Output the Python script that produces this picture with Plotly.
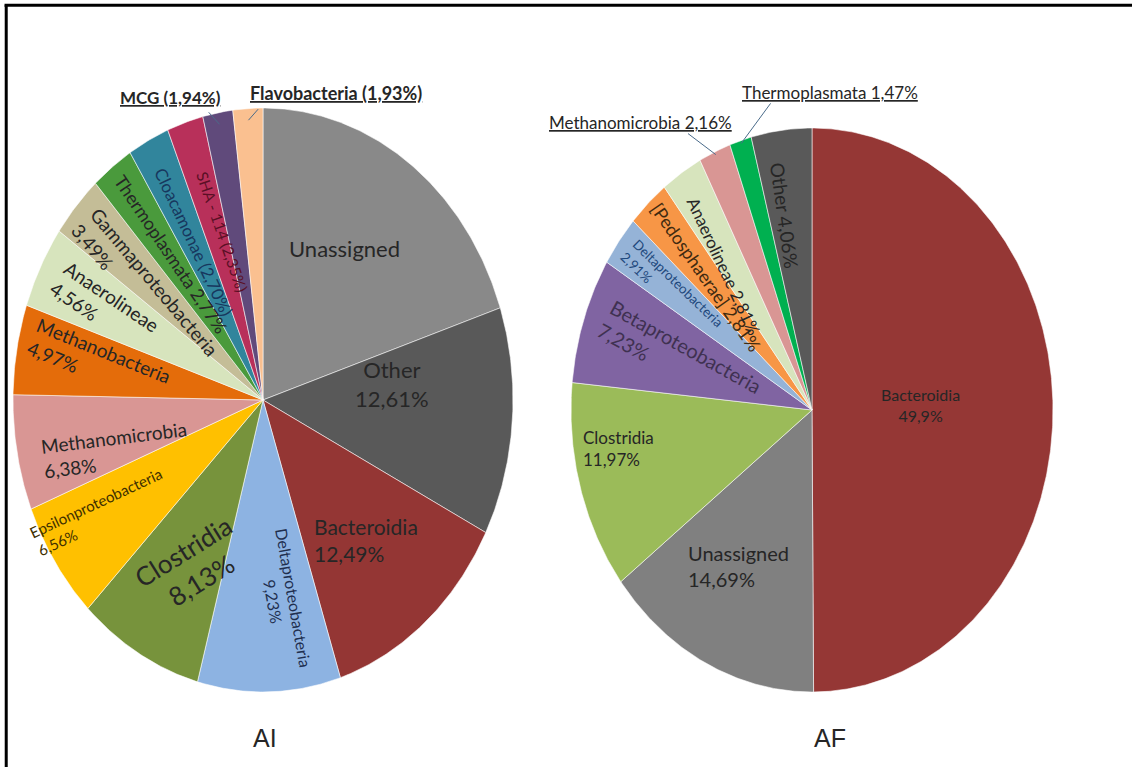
import numpy as np
import plotly.graph_objects as go

# ---- data ----
ai_labels = ["Unassigned", "Other", "Bacteroidia", "Deltaproteobacteria", "Clostridia",
             "Epsilonproteobacteria", "Methanomicrobia", "Methanobacteria", "Anaerolineae",
             "Gammaproteobacteria", "Thermoplasmata", "Cloacamonae", "SHA - 114", "MCG",
             "Flavobacteria"]
ai_values = [19.89, 12.61, 12.49, 9.23, 8.13, 6.56, 6.38, 4.97, 4.56, 3.49, 2.77, 2.70, 2.35,
             1.94, 1.93]

af_labels = ["Bacteroidia", "Unassigned", "Clostridia", "Betaproteobacteria",
             "Deltaproteobacteria", "[Pedosphaerae]", "Anaerolineae", "Methanomicrobia",
             "Thermoplasmata", "Other"]
af_values = [49.9, 14.69, 11.97, 7.23, 2.91, 2.81, 2.81, 2.16, 1.47, 4.06]
af_decimals = [1, 2, 2, 2, 2, 2, 2, 2, 2, 2]

sample_names = ["AI", "AF"]

# ---- styles ----
ai_colors = ["#898989", "#595959", "#943634", "#8db3e2", "#77933c", "#ffc000", "#d99694",
             "#e46c0a", "#d7e4bd", "#c4bd97", "#4a9a3c", "#31859c", "#b8305a", "#604a7b",
             "#fac090"]
af_colors = ["#953735", "#808080", "#9bbb59", "#8064a2", "#95b3d7", "#f79646", "#d7e4bd",
             "#d99694", "#00b050", "#595959"]

FONT = "Lato"
DARK = "#262626"

# pie geometry (pixel space): centre x, centre y, radius x, radius y
ai_geo = dict(cx=263, cy=400, rx=250, ry=292)
af_geo = dict(cx=812, cy=410, rx=241, ry=282)


def pct(v, d=2):
    return f"{v:.{d}f}".replace(".", ",") + "%"


# label layout per slice: text template, radial fraction, angle offset (deg),
# text rotation, font size, colour, alignment
ai_text = [
    ("{n}", 0.615, -3.6, 0, 22, DARK, "center"),
    ("{n}<br>{p}", 0.52, -10.4, 0, 22, DARK, "center"),
    ("{n}<br>{p}", 0.632, -0.2, 0, 21, DARK, "left"),
    ("{n}<br>{p}", 0.687, -5.3, 80, 16, "#1f2f4f", "center"),
    ("{n}<br>{p}", 0.635, -3.2, -32, 26, DARK, "center"),
    ("{n}<br>{p}", 0.757, 3.3, -25, 15, "#3f3000", "left"),
    ("{n}<br>{p}", 0.616, -5.7, -7, 19, DARK, "left"),
    ("{n}<br>{p}", 0.669, 1.2, 22, 19, DARK, "left"),
    ("{n}<br>{p}", 0.708, -0.4, 34, 19, DARK, "left"),
    ("{n}<br>{p}", 0.604, -3.0, 50, 19, DARK, "left"),
    ("{n} {p}", 0.621, 0.7, 56, 18, DARK, "left"),
    ("{n} ({p})", 0.609, 0.0, 65, 17, "#17375e", "left"),
    ("{n} ({p})", 0.598, 2.3, 71, 15.5, "#5a0f25", "left"),
    None,
    None,
]
af_text = [
    ("{n}<br>{p}", 0.45, -2.1, 0, 16, DARK, "center"),
    ("{n}<br>{p}", 0.633, 2.9, 0, 20, DARK, "left"),
    ("{n}<br>{p}", 0.816, 6.4, 0, 17, DARK, "left"),
    ("{n}<br>{p}", 0.578, -0.1, 29, 20, "#3f3151", "left"),
    ("{n}<br>{p}", 0.72, -0.7, 44, 13.5, "#1f497d", "left"),
    ("{n} {p}", 0.645, -0.2, 55, 18, "#3f2a10", "left"),
    ("{n} {p}", 0.63, -3.1, 65, 17, DARK, "left"),
    None,
    None,
    ("{n} {p}", 0.70, -1.9, 82, 19, DARK, "left"),
]

# outside callouts: slice index, edge fraction, label offset (dx, dy),
# leader start fraction, underline offset, font size, bold
ai_callouts = [(13, 0.96, (-49, -27), 0.22, 15, 17, True),
               (14, 0.96, (88, -27), 0.11, 16, 18, True)]
af_callouts = [(7, 0.99, (-75, -32), 0.37, 11, 17, False),
               (8, 0.99, (89, -51), 0.33, 11, 17, False)]

fig = go.Figure()
annotations = []
shapes = []


def ellipse_point(g, ang_deg, f=1.0):
    a = np.radians(ang_deg)
    return g["cx"] + f * g["rx"] * np.sin(a), g["cy"] - f * g["ry"] * np.cos(a)


def draw_pie(labels, values, colors, geo, texts, decimals=None):
    total = float(sum(values))
    start = 0.0
    mids = []
    for i, (lab, val, col) in enumerate(zip(labels, values, colors)):
        span = 360.0 * val / total
        angs = np.linspace(start, start + span, max(int(span * 2), 2) + 1)
        xs = [geo["cx"]] + [ellipse_point(geo, a)[0] for a in angs] + [geo["cx"]]
        ys = [geo["cy"]] + [ellipse_point(geo, a)[1] for a in angs] + [geo["cy"]]
        fig.add_trace(go.Scatter(x=xs, y=ys, fill="toself", fillcolor=col, mode="lines",
                                 line=dict(color="rgba(255,255,255,0.7)", width=0.8),
                                 name=lab, hoverinfo="name", showlegend=False))
        mid = start + span / 2
        mids.append(mid)
        spec = texts[i]
        if spec is not None:
            tmpl, f, dang, rot, size, tcol, align = spec
            d = decimals[i] if decimals else 2
            txt = tmpl.format(n=lab, p=pct(val, d))
            x, y = ellipse_point(geo, mid + dang, f)
            annotations.append(dict(x=x, y=y, xref="x", yref="y", text=txt, showarrow=False,
                                    textangle=rot, align=align,
                                    font=dict(family=FONT, size=size, color=tcol)))
        start += span
    return mids


def draw_callouts(labels, values, geo, mids, callouts, decimals=None):
    for idx, fe, (dx, dy), k, uoff, size, bold in callouts:
        d = decimals[idx] if decimals else 2
        p = pct(values[idx], d)
        body = f"{labels[idx]} ({p})" if bold else f"{labels[idx]} {p}"
        if bold:
            body = f"<b>{body}</b>"
        ex, ey = ellipse_point(geo, mids[idx], fe)
        lx, ly = ex + dx, ey + dy
        annotations.append(dict(x=lx, y=ly, xref="x", yref="y", text=f"<u>{body}</u>",
                                showarrow=False,
                                font=dict(family=FONT, size=size, color=DARK)))
        # leader line from below the label to the slice
        shapes.append(dict(type="line", xref="x", yref="y", x0=ex + k * dx, y0=ly + uoff,
                           x1=ex, y1=ey, line=dict(color="#4a6b8a", width=1)))


ai_mids = draw_pie(ai_labels, ai_values, ai_colors, ai_geo, ai_text)
af_mids = draw_pie(af_labels, af_values, af_colors, af_geo, af_text, af_decimals)
draw_callouts(ai_labels, ai_values, ai_geo, ai_mids, ai_callouts)
draw_callouts(af_labels, af_values, af_geo, af_mids, af_callouts, af_decimals)

# sample captions under each pie
for name, geo, dx in zip(sample_names, [ai_geo, af_geo], [2, 18]):
    annotations.append(dict(x=geo["cx"] + dx, y=geo["cy"] + geo["ry"] + 46, xref="x", yref="y",
                            text=name, showarrow=False,
                            font=dict(family="Liberation Sans", size=25, color=DARK)))

# frame lines at top and left
shapes.append(dict(type="line", xref="paper", yref="paper", x0=0.004, x1=1, y0=0.993, y1=0.993,
                   line=dict(color="black", width=3)))
shapes.append(dict(type="line", xref="paper", yref="paper", x0=0.0055, x1=0.0055, y0=0,
                   y1=0.993, line=dict(color="black", width=3)))

fig.update_layout(
    width=1132, height=767,
    margin=dict(l=0, r=0, t=0, b=0),
    paper_bgcolor="white", plot_bgcolor="white",
    xaxis=dict(range=[0, 1132], visible=False, fixedrange=True),
    yaxis=dict(range=[767, 0], visible=False, fixedrange=True),
    annotations=annotations, shapes=shapes,
    showlegend=False,
)

fig.write_html("out.html")
